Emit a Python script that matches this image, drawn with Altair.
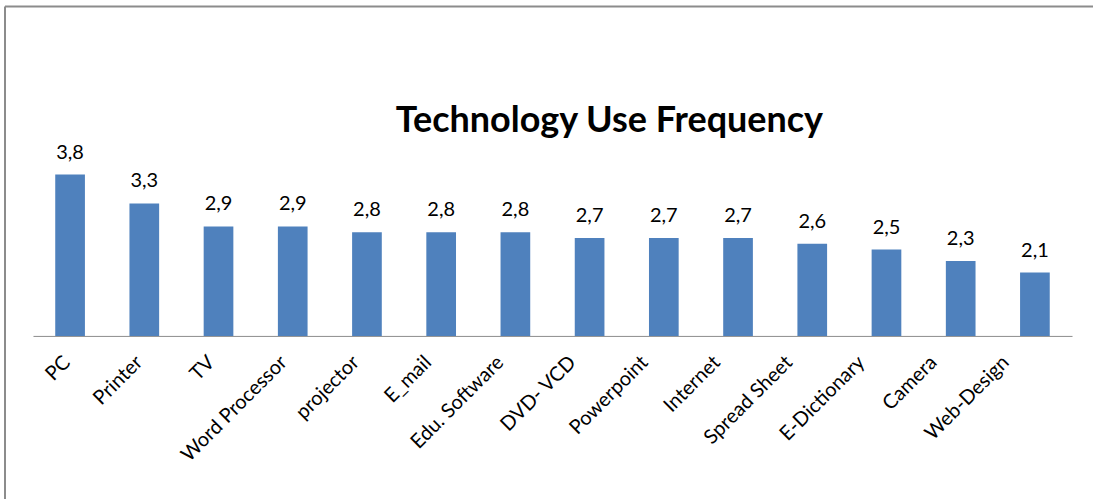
import altair as alt
import pandas as pd

# Mean usage frequency per technology
categories = [
    "PC", "Printer", "TV", "Word Processor", "projector", "E_mail",
    "Edu. Software", "DVD- VCD", "Powerpoint", "Internet", "Spread Sheet",
    "E-Dictionary", "Camera", "Web-Design",
]
values = [3.8, 3.3, 2.9, 2.9, 2.8, 2.8, 2.8, 2.7, 2.7, 2.7, 2.6, 2.5, 2.3, 2.1]
title_text = ["Technology Use Frequency"]

df = pd.DataFrame({"cat": categories, "val": values})

FONT = "Lato"
BAR = "#4F81BD"
LINE = "#8C8C8C"
W, H = 1040, 173

# category labels drift slightly left of their ticks, more so further right
cat_list = "[" + ",".join("'" + c + "'" for c in categories) + "]"
label_shift = f"-10 - 2 * indexof({cat_list}, datum.value)"

x_enc = alt.X(
    "cat:N",
    sort=None,
    scale=alt.Scale(paddingInner=0.6, paddingOuter=0.3),
    axis=alt.Axis(
        title=None,
        labelAngle=-45,
        labelFont=FONT,
        labelFontSize=20,
        labelColor="#000000",
        labelPadding=16,
        labelOffset=alt.ExprRef(label_shift),
        ticks=False,
        grid=False,
        domainColor=LINE,
        domainWidth=1,
        labelOverlap=False,
    ),
)
y_scale = alt.Scale(domain=[1, 4], zero=False, nice=False)

base = alt.Chart(df)

bars = base.mark_bar(color=BAR).encode(
    x=x_enc,
    y=alt.Y("val:Q", scale=y_scale, axis=None),
    y2=alt.datum(1),
)

labels = base.transform_calculate(
    lbl="replace(format(datum.val, '.1f'), '.', ',')"
).mark_text(
    baseline="alphabetic", dy=-16, font=FONT, fontSize=20, color="#000000"
).encode(
    x=x_enc,
    y=alt.Y("val:Q", scale=y_scale, axis=None),
    text="lbl:N",
)

title = alt.Chart(pd.DataFrame({"t": title_text})).mark_text(
    font=FONT, fontSize=36, fontWeight="bold", color="#000000",
    baseline="alphabetic", align="center",
).encode(x=alt.value(577), y=alt.value(-31), text="t:N")

one = pd.DataFrame({"k": [0]})
frame_top = alt.Chart(one).mark_rule(color=LINE, strokeWidth=2).encode(
    x=alt.value(-28), x2=alt.value(1061), y=alt.value(-156.7)
)
frame_left = alt.Chart(one).mark_rule(color=LINE, strokeWidth=2).encode(
    x=alt.value(-28), y=alt.value(-156.7), y2=alt.value(337)
)

chart = alt.layer(frame_top, frame_left, bars, labels, title).properties(
    width=W,
    height=H,
    padding={"left": 4, "top": 5, "right": 0, "bottom": 0},
    background="white",
).configure_view(stroke=None)

chart.save("out.html", embed_options={"renderer": "svg", "actions": False})
